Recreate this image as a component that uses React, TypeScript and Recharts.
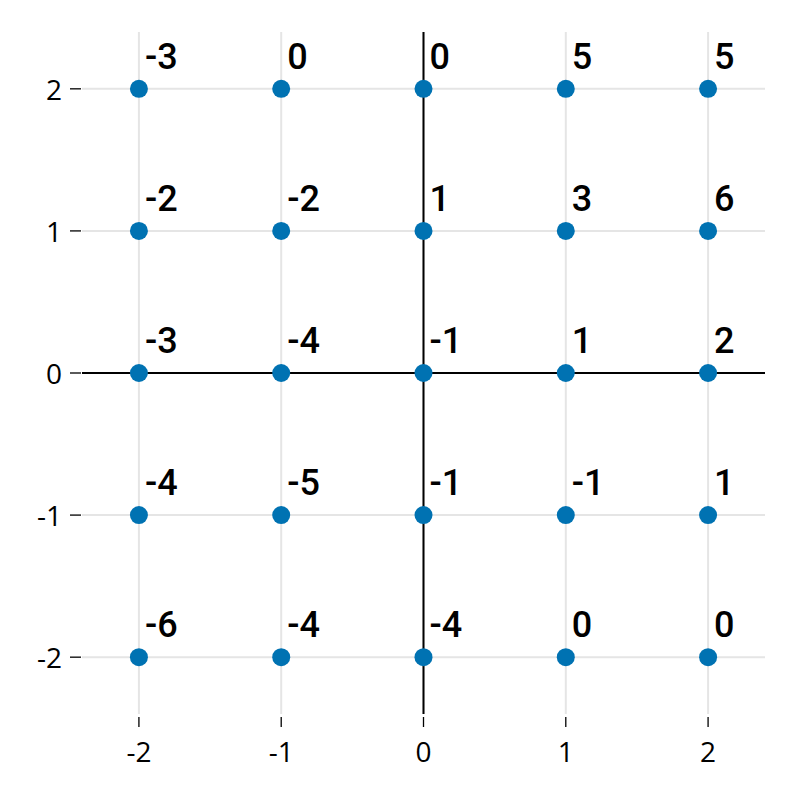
import React from "react";
import {
  ScatterChart,
  Scatter,
  XAxis,
  YAxis,
  ReferenceLine,
  LabelList,
} from "recharts";

const xValues = [-2, -1, 0, 1, 2];
const yValues = [2, 1, 0, -1, -2];
// rows follow yValues (top to bottom), columns follow xValues
const labelRows = [
  [-3, 0, 0, 5, 5],
  [-2, -2, 1, 3, 6],
  [-3, -4, -1, 1, 2],
  [-4, -5, -1, -1, 1],
  [-6, -4, -4, 0, 0],
];
const tickValues = [-2, -1, 0, 1, 2];

const points = yValues.flatMap((y, r) =>
  xValues.map((x, c) => ({ x, y, v: labelRows[r][c] }))
);

const TICK_FONT = "'Open Sans', 'Noto Sans', sans-serif";
const LABEL_FONT = "Roboto, 'Noto Sans', sans-serif";

const YTick = (props: any) => {
  const { x, y, payload } = props;
  return (
    <g>
      <line x1={x - 12} x2={x - 1} y1={y} y2={y} stroke="#000" strokeWidth={1.3} />
      <text
        x={x - 20}
        y={y}
        textAnchor="end"
        dominantBaseline="central"
        style={{ fontFamily: TICK_FONT, fontSize: "28px" }}
        fill="#000"
      >
        {payload.value}
      </text>
    </g>
  );
};

const XTick = (props: any) => {
  const { x, y, payload } = props;
  return (
    <g>
      <line x1={x} x2={x} y1={y + 3} y2={y + 13} stroke="#000" strokeWidth={1.3} />
      <text
        x={x}
        y={y + 48}
        textAnchor="middle"
        style={{ fontFamily: TICK_FONT, fontSize: "28px" }}
        fill="#000"
      >
        {payload.value}
      </text>
    </g>
  );
};

const PointLabel = (props: any) => {
  const { x, y, width, height, value } = props;
  const cx = x + (width || 0) / 2;
  const cy = y + (height || 0) / 2;
  return (
    <text
      x={cx + 6}
      y={cy - 20}
      style={{ fontFamily: LABEL_FONT, fontWeight: 500, fontSize: "36px" }}
      fill="#000"
    >
      {value}
    </text>
  );
};

export default function App() {
  return (
    <ScatterChart
      width={784}
      height={784}
      margin={{ top: 24, right: 27, bottom: 0, left: 0 }}
    >
      <XAxis
        type="number"
        dataKey="x"
        domain={[-2.4, 2.4]}
        ticks={tickValues}
        height={78}
        axisLine={false}
        tickLine={false}
        tickSize={0}
        tickMargin={0}
        tick={<XTick />}
        allowDataOverflow
      />
      <YAxis
        type="number"
        dataKey="y"
        domain={[-2.4, 2.4]}
        ticks={tickValues}
        width={74}
        axisLine={false}
        tickLine={false}
        tickSize={0}
        tickMargin={0}
        tick={<YTick />}
        allowDataOverflow
      />
      {tickValues.map((t) => (
        <ReferenceLine key={"gx" + t} x={t} stroke="#e5e5e5" strokeWidth={2} />
      ))}
      {tickValues.map((t) => (
        <ReferenceLine key={"gy" + t} y={t} stroke="#e5e5e5" strokeWidth={2} />
      ))}
      <ReferenceLine x={0} stroke="#000" strokeWidth={2} />
      <ReferenceLine y={0} stroke="#000" strokeWidth={2} />
      <Scatter
        data={points}
        fill="#0072B2"
        isAnimationActive={false}
        shape={(p: any) => <circle cx={p.cx} cy={p.cy} r={9} fill="#0072B2" />}
      >
        <LabelList dataKey="v" content={<PointLabel />} />
      </Scatter>
    </ScatterChart>
  );
}
